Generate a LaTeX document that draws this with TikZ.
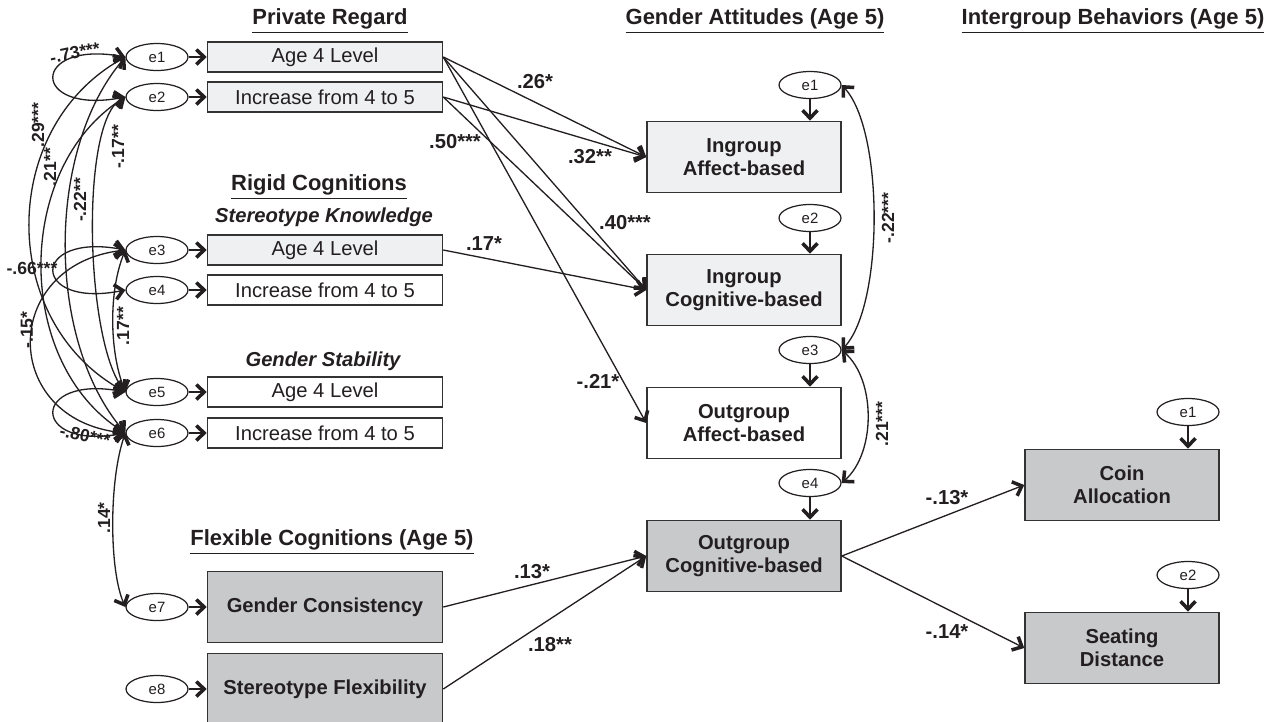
\documentclass[tikz,border=0pt]{standalone}
\usepackage{fontspec}
\setmainfont{Liberation Sans}
\usepackage{tikz}
\usetikzlibrary{shapes.geometric,arrows.meta}
\definecolor{ink}{HTML}{231F20}
\definecolor{boxline}{HTML}{333333}
\definecolor{light}{HTML}{EFF0F1}
\definecolor{mid}{HTML}{C8C9CB}
\tikzset{
  err/.style={ellipse, draw=ink, line width=0.7pt, minimum width=1.24cm,
    minimum height=0.54cm, inner sep=0pt, font=\fontsize{8.5}{9}\selectfont},
  obs/.style={draw=boxline, line width=0.9pt, minimum width=4.7cm,
    minimum height=0.6cm, inner sep=0pt, font=\fontsize{11.5}{13}\selectfont},
  flex/.style={obs, fill=mid, minimum height=1.42cm, font=\bfseries\fontsize{11.5}{13}\selectfont},
  dv/.style={draw=boxline, line width=0.9pt, minimum width=3.88cm,
    minimum height=1.42cm, inner sep=0pt, align=center,
    font=\bfseries\fontsize{11.5}{13}\selectfont},
  head/.style={font=\bfseries\fontsize{12.5}{14}\selectfont},
  subhead/.style={font=\bfseries\itshape\fontsize{11.5}{13}\selectfont},
  coef/.style={font=\bfseries\fontsize{11.5}{13}\selectfont, inner sep=1pt},
  covlab/.style={font=\bfseries\fontsize{10}{11}\selectfont, inner sep=1pt},
  reg/.style={->, draw=ink, line width=0.75pt},
  cov/.style={<->, draw=ink, line width=0.75pt}
}

\begin{document}
\begin{tikzpicture}[x=0.02cm, y=-0.02cm, every node/.append style={text=ink},
  >={Straight Barb[length=4.5pt,width=8.5pt,line width=2pt]}]
  \def\ex{157}
  \def\bx{325}
  \def\gx{744}
  \def\gex{810}
  \def\ix{1122}
  \def\iex{1188}

  \useasboundingbox (0,0) rectangle (1270,721);

  % headings
  \node[head] (hpr) at (330,21) {\underline{Private Regard}};
  \node[head] (hga) at (755,21) {\underline{Gender Attitudes (Age 5)}};
  \node[head] (hib) at (1113,21) {\underline{Intergroup Behaviors (Age 5)}};
  \node[head] (hrc) at (319,187) {\underline{Rigid Cognitions}};
  \node[subhead] (hsk) at (324,217) {Stereotype Knowledge};
  \node[subhead] (hgs) at (323,361) {Gender Stability};
  \node[head] (hfc) at (332,542) {\underline{Flexible Cognitions (Age 5)}};

  % predictors
  \node[obs, fill=light] (pr4)   at (\bx,57)  {Age 4 Level};
  \node[obs, fill=light] (princ) at (\bx,97)  {Increase from 4 to 5};
  \node[obs, fill=light] (sk4)   at (\bx,250) {Age 4 Level};
  \node[obs, fill=white] (skinc) at (\bx,290) {Increase from 4 to 5};
  \node[obs, fill=white] (gs4)   at (\bx,392) {Age 4 Level};
  \node[obs, fill=white] (gsinc) at (\bx,433) {Increase from 4 to 5};
  \node[flex] (gc) at (\bx,607) {Gender Consistency};
  \node[flex] (sf) at (\bx,689) {Stereotype Flexibility};

  \node[err] (e1) at (\ex,57)  {e1};
  \node[err] (e2) at (\ex,97)  {e2};
  \node[err] (e3) at (\ex,250) {e3};
  \node[err] (e4) at (\ex,290) {e4};
  \node[err] (e5) at (\ex,392) {e5};
  \node[err] (e6) at (\ex,433) {e6};
  \node[err] (e7) at (\ex,607) {e7};
  \node[err] (e8) at (\ex,689) {e8};

  % gender attitudes
  \node[dv, fill=light] (ia) at (\gx,157) {Ingroup\\Affect-based};
  \node[dv, fill=light] (ic) at (\gx,290) {Ingroup\\Cognitive-based};
  \node[dv, fill=white] (oa) at (\gx,423) {Outgroup\\Affect-based};
  \node[dv, fill=mid]   (oc) at (\gx,556) {Outgroup\\Cognitive-based};

  \node[err] (ga1) at (\gex,85)  {e1};
  \node[err] (ga2) at (\gex,218) {e2};
  \node[err] (ga3) at (\gex,350) {e3};
  \node[err] (ga4) at (\gex,483) {e4};

  % intergroup behaviors
  \node[dv, fill=mid] (ca) at (\ix,485) {Coin\\Allocation};
  \node[dv, fill=mid] (sd) at (\ix,648) {Seating\\Distance};

  \node[err] (ib1) at (\iex,412) {e1};
  \node[err] (ib2) at (\iex,575) {e2};

  % residual arrows
  \draw[reg] (e1) -- (pr4);
  \draw[reg] (e2) -- (princ);
  \draw[reg] (e3) -- (sk4);
  \draw[reg] (e4) -- (skinc);
  \draw[reg] (e5) -- (gs4);
  \draw[reg] (e6) -- (gsinc);
  \draw[reg] (e7) -- (gc);
  \draw[reg] (e8) -- (sf);
  \draw[reg] (ga1.south) -- (ga1.south |- ia.north);
  \draw[reg] (ga2.south) -- (ga2.south |- ic.north);
  \draw[reg] (ga3.south) -- (ga3.south |- oa.north);
  \draw[reg] (ga4.south) -- (ga4.south |- oc.north);
  \draw[reg] (ib1.south) -- (ib1.south |- ca.north);
  \draw[reg] (ib2.south) -- (ib2.south |- sd.north);

  % paths
  \draw[reg] (pr4.east) -- (ia.west);
  \draw[reg] (pr4.east) -- (ic.west);
  \draw[reg] (pr4.east) -- (oa.west);
  \draw[reg] (princ.east) -- (ia.west);
  \draw[reg] (princ.east) -- (ic.west);
  \draw[reg] (sk4.east) -- (ic.west);
  \draw[reg] (gc.east) -- (oc.west);
  \draw[reg] (sf.east) -- (oc.west);
  \draw[reg] (oc.east) -- (ca.west);
  \draw[reg] (oc.east) -- (sd.west);

  \node[coef] (p26) at (535,82)  {.26*};
  \node[coef] (p50) at (455,142) {.50***};
  \node[coef] (p32) at (590,157) {.32**};
  \node[coef] (p40) at (625,223) {.40***};
  \node[coef] (p17) at (484,244) {.17*};
  \node[coef] (p21) at (598,381) {-.21*};
  \node[coef] (p13) at (532,572) {.13*};
  \node[coef] (p18) at (550,645) {.18**};
  \node[coef] (pca) at (947,498) {-.13*};
  \node[coef] (psd) at (947,632) {-.14*};

  % covariances
  \draw[cov] (e1.west) .. controls (30,40) and (30,115) .. (e2.west);
  \draw[cov] (e3.west) .. controls (30,232) and (30,309) .. (e4.west);
  \draw[cov] (e5.west) .. controls (30,374) and (30,451) .. (e6.west);
  \draw[cov] (e1.west) .. controls (-2,128) and (-2,322) .. (e5.west);
  \draw[cov] (e2.west) .. controls (14,168) and (14,363) .. (e6.west);
  \draw[cov] (e1.west) .. controls (46,150) and (46,340) .. (e6.west);
  \draw[cov] (e2.west) .. controls (80,120) and (85,340) .. (e5.west);
  \draw[cov] (e3.west) .. controls (0,265) and (0,420) .. (e6.west);
  \draw[cov] (e3.west) .. controls (109,290) and (109,350) .. (e5.west);
  \draw[cov] (e6.west) .. controls (109,480) and (109,570) .. (e7.west);
  \draw[cov] (ga1.east) .. controls (884,130) and (884,305) .. (ga3.east);
  \draw[cov] (ga3.east) .. controls (876,380) and (876,453) .. (ga4.east);

  \node[covlab, rotate=12] (c73) at (75,53) {-.73***};
  \node[covlab] (c66) at (32,268) {-.66***};
  \node[covlab, rotate=-12] (c80) at (85,436) {-.80***};
  \node[covlab, rotate=90] (c29) at (38,125) {.29***};
  \node[covlab, rotate=90] (c21) at (50,167) {.21**};
  \node[covlab, rotate=90] (c22) at (80,200) {-.22**};
  \node[covlab, rotate=90] (c17) at (118,147) {-.17**};
  \node[covlab, rotate=90] (c15) at (27,330) {-.15*};
  \node[covlab, rotate=90] (c17b) at (123,326) {.17**};
  \node[covlab, rotate=90] (c14) at (104,518) {.14*};
  \node[covlab, rotate=90] (cga) at (888,218) {-.22***};
  \node[covlab, rotate=90] (cgb) at (882,424) {.21***};
\end{tikzpicture}
\end{document}
